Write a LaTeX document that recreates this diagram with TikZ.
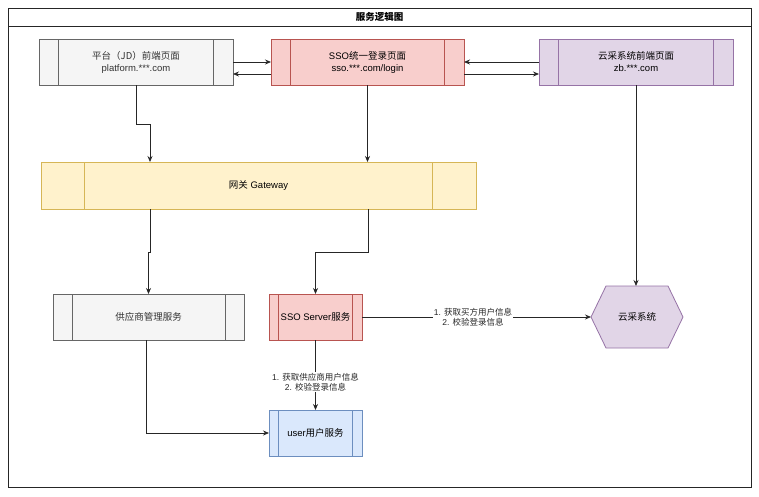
\documentclass[tikz,border=0pt]{standalone}
\usepackage{fontspec}
\setmainfont{Liberation Sans}
\newfontfamily\cjk{Noto Sans CJK SC}
\usetikzlibrary{arrows.meta}
\definecolor{gfill}{HTML}{F5F5F5}
\definecolor{gline}{HTML}{666666}
\definecolor{gtext}{HTML}{333333}
\definecolor{rfill}{HTML}{F8CECC}
\definecolor{rline}{HTML}{B85450}
\definecolor{pfill}{HTML}{E1D5E7}
\definecolor{pline}{HTML}{9673A6}
\definecolor{yfill}{HTML}{FFF2CC}
\definecolor{yline}{HTML}{D6B656}
\definecolor{bfill}{HTML}{DAE8FC}
\definecolor{bline}{HTML}{6C8EBF}
\newcommand\zh[1]{{\cjk #1}}
\newcommand\sidebars[3]{%
  \draw[#3,line width=0.8pt] ([xshift=#2]#1.north west) -- ([xshift=#2]#1.south west);
  \draw[#3,line width=0.8pt] ([xshift=-#2]#1.north east) -- ([xshift=-#2]#1.south east);}
\pgfdeclarelayer{bg}
\pgfsetlayers{bg,main}
\tikzset{
  box/.style={draw, rectangle, line width=0.8pt, inner sep=0pt, outer sep=0pt,
    minimum height=46pt, align=center, font=\fontsize{9.5}{12}\selectfont},
  gbox/.style={box, fill=gfill, draw=gline, text=gtext},
  rbox/.style={box, fill=rfill, draw=rline},
  pbox/.style={box, fill=pfill, draw=pline},
  ybox/.style={box, fill=yfill, draw=yline},
  bbox/.style={box, fill=bfill, draw=bline},
  arr/.style={-{Stealth[length=6pt,width=5pt]}, line width=0.8pt, black!85},
  elabel/.style={fill=white, inner sep=1pt, align=center, font=\fontsize{8.5}{10.5}\selectfont}
}
\begin{document}
\begin{tikzpicture}[x=1pt,y=-1pt]
\useasboundingbox (0,0) rectangle (759,496);
% frame
\node[draw=black!85, line width=0.9pt, rectangle, inner sep=0pt, outer sep=0pt,
  minimum width=743pt, minimum height=479pt] (frame) at (379.5,247.5) {};
\coordinate (tl) at (8,26);
\coordinate (tr) at (751,26);
\draw[black!85, line width=0.9pt] (tl) -- (tr);
\node[font=\fontsize{9.5}{12}\selectfont] (title) at (379.5,17) {\zh{\bfseries 服务逻辑图}};

% top row
\node[gbox, minimum width=194pt] (plat) at (136,62) {\zh{平台（JD）前端页面}\\platform.***.com};
\node[rbox, minimum width=193pt] (sso) at (367.5,62) {SSO\zh{统一登录页面}\\sso.***.com/login};
\node[pbox, minimum width=194pt] (yun) at (636,62) {\zh{云采系统前端页面}\\zb.***.com};
\sidebars{plat}{19.4pt}{gline}
\sidebars{sso}{19.3pt}{rline}
\sidebars{yun}{19.4pt}{pline}

% gateway
\node[ybox, minimum width=435pt, minimum height=47pt] (gw) at (258.5,185.5) {\zh{网关} Gateway};
\sidebars{gw}{43.5pt}{yline}

% services
\node[gbox, minimum width=191pt] (sup) at (148.5,317) {\zh{供应商管理服务}};
\sidebars{sup}{19.1pt}{gline}
\node[rbox, minimum width=93pt] (ssos) at (315.5,317) {SSO Server\zh{服务}};
\sidebars{ssos}{9.3pt}{rline}
\node[bbox, minimum width=93pt] (user) at (315.5,433) {user\zh{用户服务}};
\sidebars{user}{9.3pt}{bline}

% hexagon
\node[inner sep=0pt, outer sep=0pt, minimum width=92pt, minimum height=62pt,
  font=\fontsize{9.5}{12}\selectfont] (hex) at (637,317) {\zh{云采系统}};
\begin{pgfonlayer}{bg}
\filldraw[fill=pfill, draw=pline, line width=0.8pt]
  (hex.west) -- ([xshift=-31pt]hex.north) -- ([xshift=31pt]hex.north) -- (hex.east)
  -- ([xshift=31pt]hex.south) -- ([xshift=-31pt]hex.south) -- cycle;
\end{pgfonlayer}

% connectors top row
\draw[arr] (plat.east) -- (sso.west);
\draw[arr] ([yshift=-12pt]sso.west) -- ([yshift=-12pt]plat.east);
\draw[arr] (yun.west) -- (sso.east);
\draw[arr] ([yshift=-12pt]sso.east) -- ([yshift=-12pt]yun.west);

% down to gateway
\draw[arr] (plat.south) -- ++(0,39) -| ([xshift=-108.5pt]gw.north);
\draw[arr] (sso.south) -- (sso.south |- gw.north);
\draw[arr] (yun.south) -- (yun.south |- hex.north);

% gateway down
\draw[arr] ([xshift=-108.5pt]gw.south) -- ++(0,43) -| (sup.north);
\draw[arr] ([xshift=109.5pt]gw.south) -- ++(0,43) -| (ssos.north);

% services
\draw[arr] (ssos.east) -- node[elabel, pos=0.485] {1. \zh{获取买方用户信息}\\2. \zh{校验登录信息}} (hex.west);
\draw[arr] (ssos.south) -- node[elabel, pos=0.6] {1. \zh{获取供应商用户信息}\\2. \zh{校验登录信息}} (user.north);
\draw[arr] ([xshift=-2.5pt]sup.south) |- (user.west);
\end{tikzpicture}
\end{document}
